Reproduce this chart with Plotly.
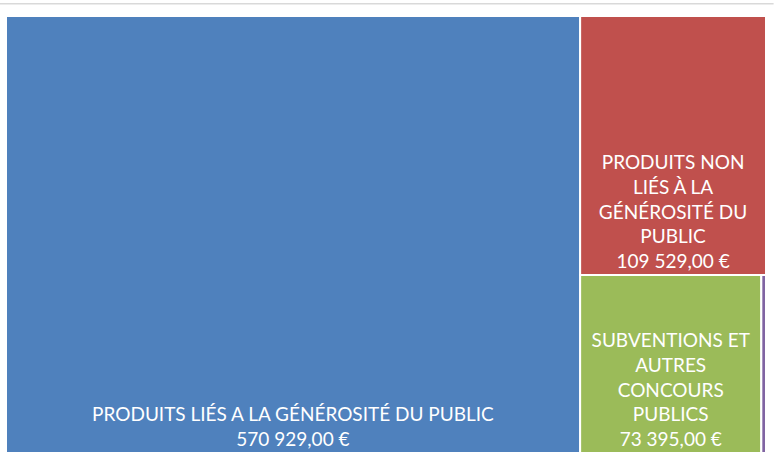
import plotly.graph_objects as go

names = [
    "PRODUITS LIÉS A LA GÉNÉROSITÉ DU PUBLIC",
    "PRODUITS NON LIÉS À LA GÉNÉROSITÉ DU PUBLIC",
    "SUBVENTIONS ET AUTRES CONCOURS PUBLICS",
    "AUTRES PRODUITS",
]
wrapped = [
    "PRODUITS LIÉS A LA GÉNÉROSITÉ DU PUBLIC",
    "PRODUITS NON<br>LIÉS À LA<br>GÉNÉROSITÉ DU<br>PUBLIC",
    "SUBVENTIONS ET<br>AUTRES<br>CONCOURS<br>PUBLICS",
    "",
]
values = [570929.00, 109529.00, 73395.00, 1900.00]
colors = ["#4F81BD", "#C0504D", "#9BBB59", "#8064A2"]
show_label = [True, True, True, False]


def fr(v):
    s = f"{v:,.2f}"
    return s.replace(",", " ").replace(".", ",") + " €"


texts = [
    (w + "<br>" + fr(v)) if sh else ""
    for w, v, sh in zip(wrapped, values, show_label)
]

fig = go.Figure(
    go.Treemap(
        labels=names,
        parents=[""] * len(names),
        values=values,
        text=texts,
        texttemplate="%{text}",
        textposition="bottom center",
        textfont=dict(family="Lato", size=19, color="white"),
        marker=dict(colors=colors, line=dict(color="white", width=2), pad=dict(t=0, l=0, r=0, b=0)),
        tiling=dict(pad=0),
        pathbar=dict(visible=False),
        sort=True,
        hoverinfo="label+value",
    )
)

fig.update_layout(
    width=775,
    height=455,
    margin=dict(l=6, r=9, t=16, b=2),
    paper_bgcolor="white",
    showlegend=False,
    shapes=[
        dict(type="line", xref="paper", yref="paper", x0=-0.01, x1=1.01, y0=1.028, y1=1.028,
             line=dict(color="#D9D9D9", width=1.5))
    ],
)

fig.write_html("out.html")
